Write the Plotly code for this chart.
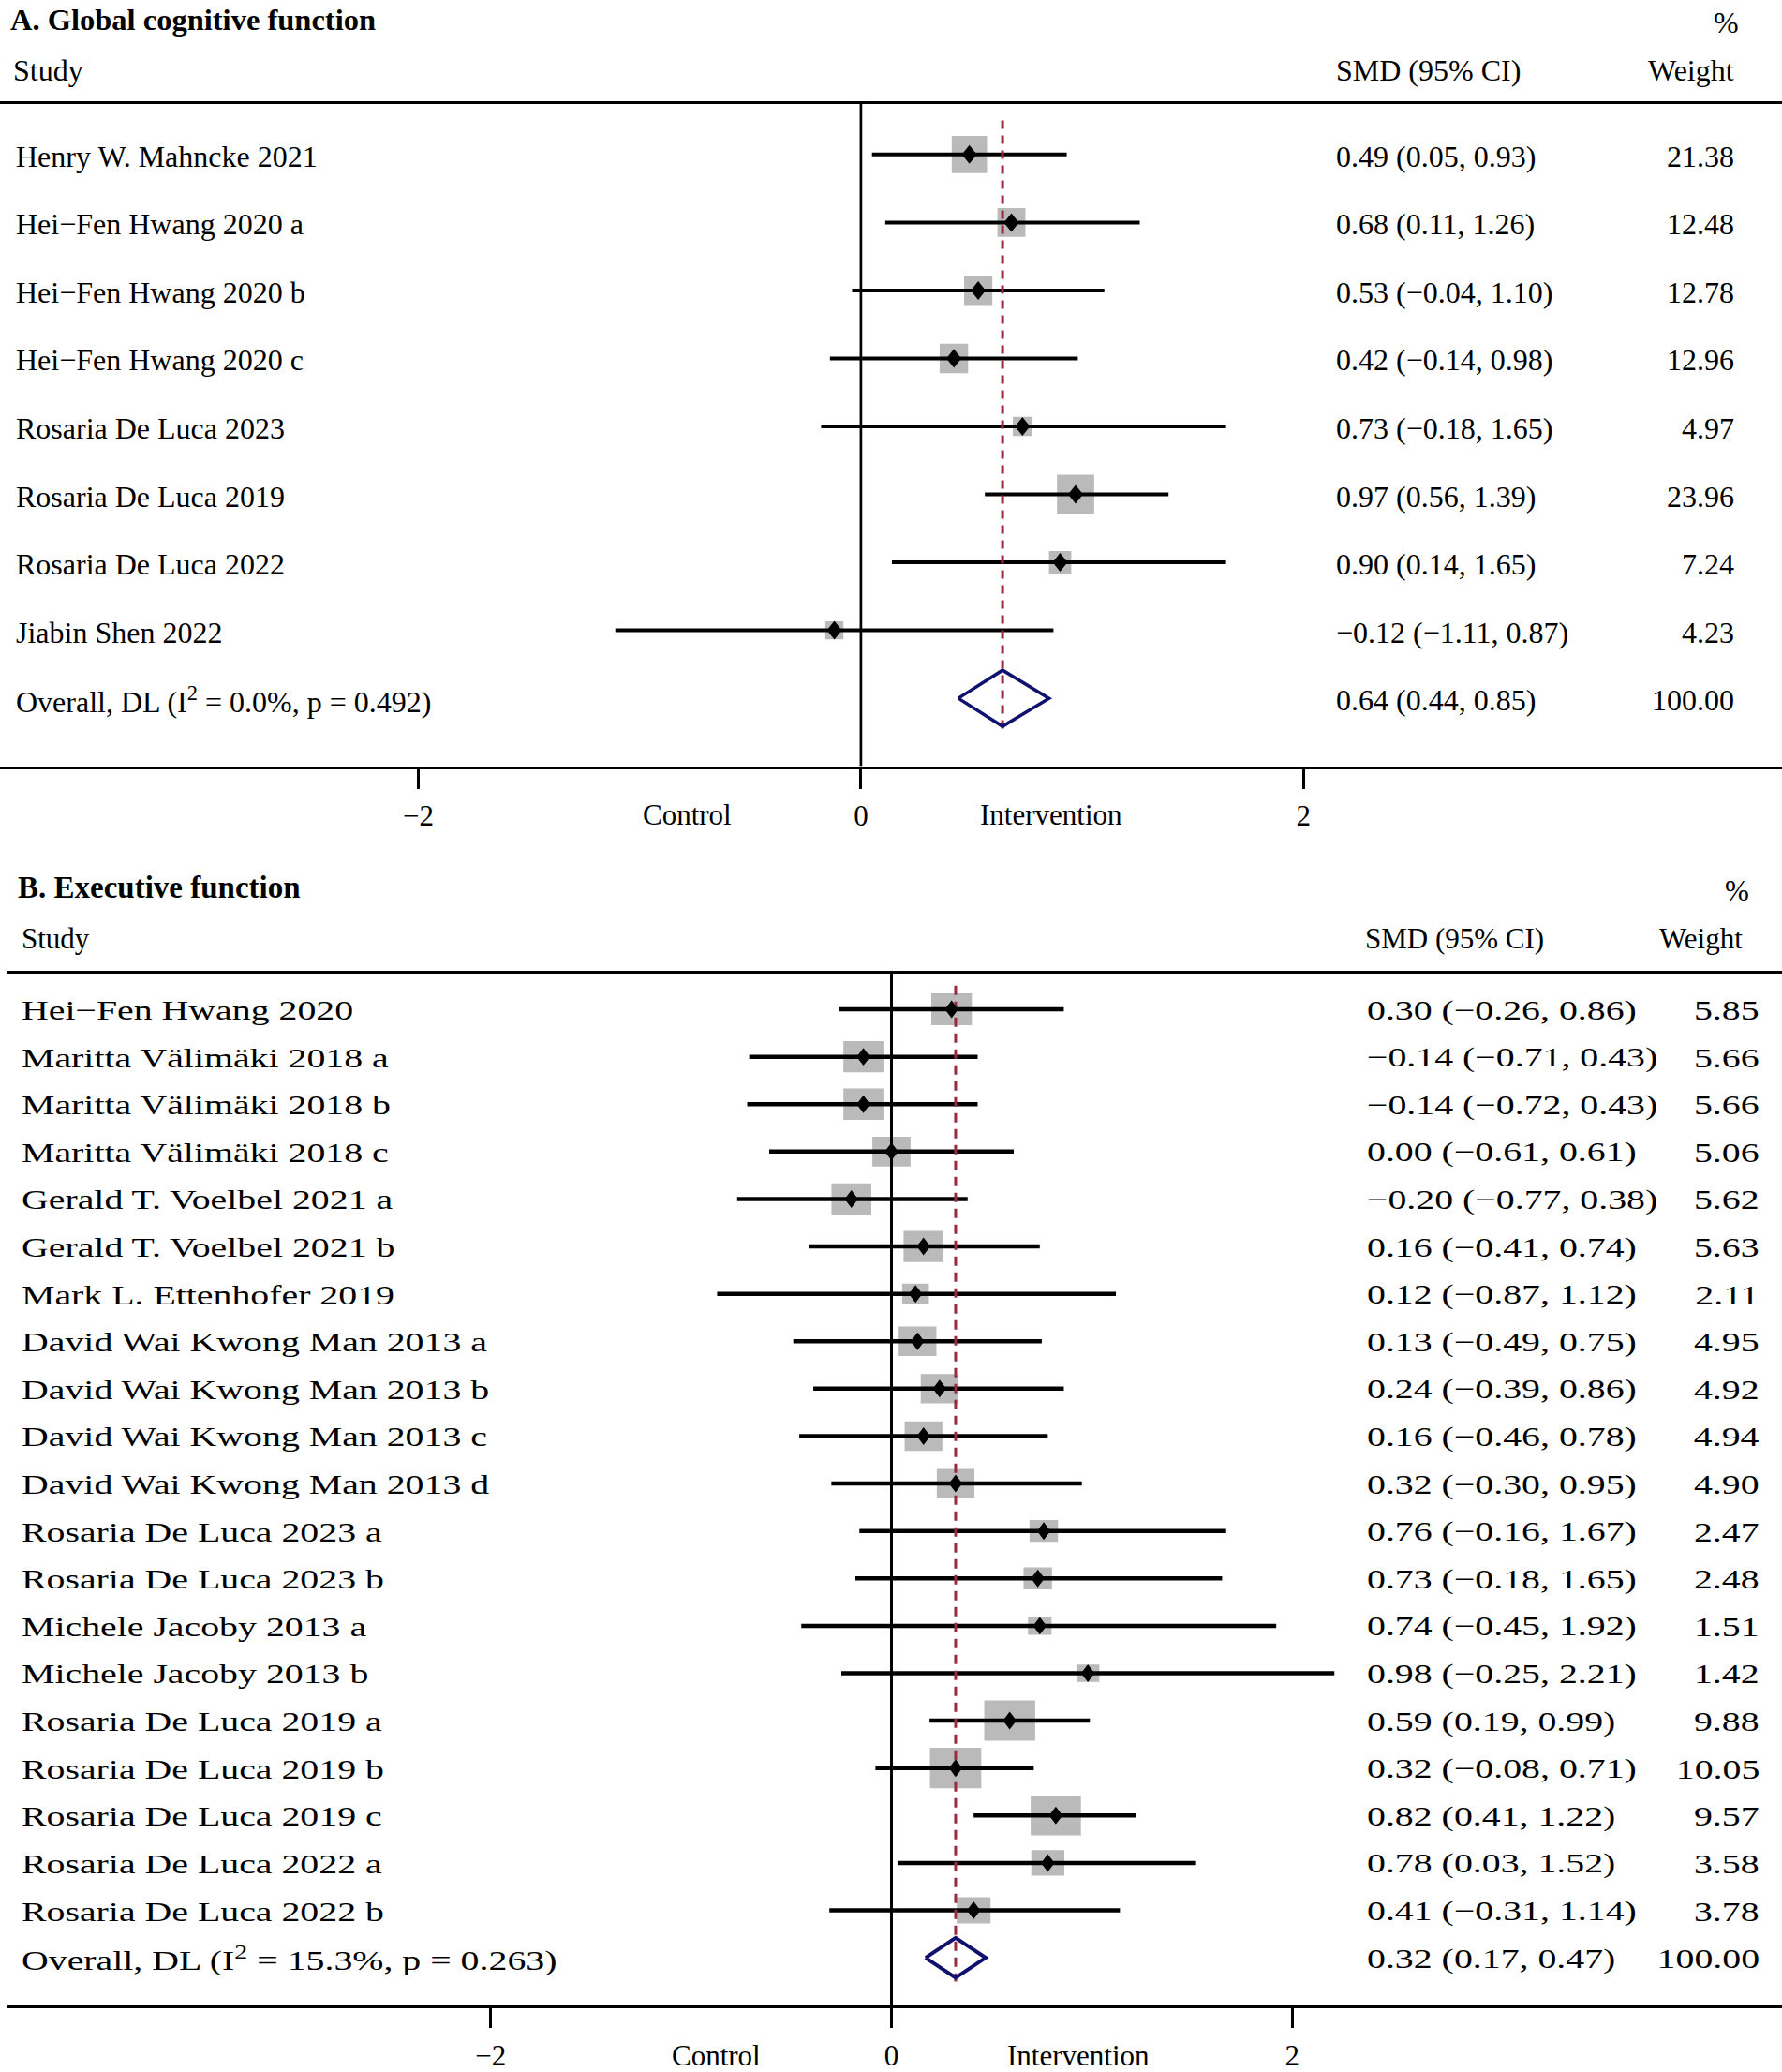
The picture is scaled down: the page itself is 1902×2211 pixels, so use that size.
import math
import plotly.graph_objects as go

W, H = 1902, 2211
FONT = "Liberation Serif"

# ---------------- Panel A data ----------------
a_title = "A. Global cognitive function"
a_studies = ["Henry W. Mahncke 2021", "Hei−Fen Hwang 2020 a", "Hei−Fen Hwang 2020 b",
             "Hei−Fen Hwang 2020 c", "Rosaria De Luca 2023", "Rosaria De Luca 2019",
             "Rosaria De Luca 2022", "Jiabin Shen 2022"]
a_smd = [0.49, 0.68, 0.53, 0.42, 0.73, 0.97, 0.90, -0.12]
a_lo = [0.05, 0.11, -0.04, -0.14, -0.18, 0.56, 0.14, -1.11]
a_hi = [0.93, 1.26, 1.10, 0.98, 1.65, 1.39, 1.65, 0.87]
a_weight = [21.38, 12.48, 12.78, 12.96, 4.97, 23.96, 7.24, 4.23]
a_overall = [0.64, 0.44, 0.85]
a_overall_label = "Overall, DL (I<sup>2</sup> = 0.0%, p = 0.492)"

# ---------------- Panel B data ----------------
b_title = "B. Executive function"
b_studies = ["Hei−Fen Hwang 2020", "Maritta Välimäki 2018 a", "Maritta Välimäki 2018 b",
             "Maritta Välimäki 2018 c", "Gerald T. Voelbel 2021 a", "Gerald T. Voelbel 2021 b",
             "Mark L. Ettenhofer 2019", "David Wai Kwong Man 2013 a", "David Wai Kwong Man 2013 b",
             "David Wai Kwong Man 2013 c", "David Wai Kwong Man 2013 d", "Rosaria De Luca 2023 a",
             "Rosaria De Luca 2023 b", "Michele Jacoby 2013 a", "Michele Jacoby 2013 b",
             "Rosaria De Luca 2019 a", "Rosaria De Luca 2019 b", "Rosaria De Luca 2019 c",
             "Rosaria De Luca 2022 a", "Rosaria De Luca 2022 b"]
b_smd = [0.30, -0.14, -0.14, 0.00, -0.20, 0.16, 0.12, 0.13, 0.24, 0.16, 0.32,
         0.76, 0.73, 0.74, 0.98, 0.59, 0.32, 0.82, 0.78, 0.41]
b_lo = [-0.26, -0.71, -0.72, -0.61, -0.77, -0.41, -0.87, -0.49, -0.39, -0.46, -0.30,
        -0.16, -0.18, -0.45, -0.25, 0.19, -0.08, 0.41, 0.03, -0.31]
b_hi = [0.86, 0.43, 0.43, 0.61, 0.38, 0.74, 1.12, 0.75, 0.86, 0.78, 0.95,
        1.67, 1.65, 1.92, 2.21, 0.99, 0.71, 1.22, 1.52, 1.14]
b_weight = [5.85, 5.66, 5.66, 5.06, 5.62, 5.63, 2.11, 4.95, 4.92, 4.94, 4.90,
            2.47, 2.48, 1.51, 1.42, 9.88, 10.05, 9.57, 3.58, 3.78]
b_overall = [0.32, 0.17, 0.47]
b_overall_label = "Overall, DL (I<sup>2</sup> = 15.3%, p = 0.263)"

tick_vals = [-2, 0, 2]
tick_text = ["−2", "0", "2"]
side_labels = ["Control", "Intervention"]
col_headers = ["Study", "SMD (95% CI)", "%", "Weight"]

BOX_COLOR = "#bababa"
RED = "#9a2a3c"
NAVY = "#10106e"


def fmt(v):
    return f"{v:.2f}".replace("-", "−")


fig = go.Figure()
annotations = []
stretch_idx = []
right_idx = []


def ann(text, xpx, ypx, anchor="left", size=31, stretch=False):
    if stretch:
        stretch_idx.append(len(annotations))
        if anchor == "right":
            right_idx.append(len(annotations))
    annotations.append(dict(
        text=text, xref="paper", yref="paper", x=xpx / W, y=1 - ypx / H,
        xanchor=anchor, yanchor="middle", align=anchor, showarrow=False,
        font=dict(family=FONT, size=size, color="black")))


def panel(ax, studies, smd, lo, hi, weight, overall, overall_label, g):
    xa = "x" if ax == 1 else "x2"
    ya = "y" if ax == 1 else "y2"
    n = len(studies)
    ux, ry = g["unit"], g["step"]

    def ydat(px):
        return (px - g["row1"]) / ry

    ytop, ybot = ydat(g["top"]), ydat(g["bot"])
    rows = list(range(n))
    # boxes
    bx, by = [], []
    for i in rows:
        s = math.sqrt(weight[i])
        hw = (g["bw"][0] * s + g["bw"][1]) / 2 / ux
        hh = (g["bh"][0] * s + g["bh"][1]) / 2 / ry
        bx += [smd[i] - hw, smd[i] + hw, smd[i] + hw, smd[i] - hw, smd[i] - hw, None]
        by += [i - hh, i - hh, i + hh, i + hh, i - hh, None]
    fig.add_trace(go.Scatter(x=bx, y=by, mode="lines", fill="toself", fillcolor=BOX_COLOR,
                             line=dict(width=0, color=BOX_COLOR), xaxis=xa, yaxis=ya,
                             hoverinfo="skip"))
    # null line
    fig.add_trace(go.Scatter(x=[0, 0], y=[ytop, ybot], mode="lines",
                             line=dict(color="black", width=g["zw"]), xaxis=xa, yaxis=ya,
                             hoverinfo="skip"))
    # CI lines
    lx, ly = [], []
    for i in rows:
        lx += [lo[i], hi[i], None]
        ly += [i, i, None]
    fig.add_trace(go.Scatter(x=lx, y=ly, mode="lines", line=dict(color="black", width=g["cw"]),
                             xaxis=xa, yaxis=ya, hoverinfo="skip"))
    # overall dashed line
    fig.add_trace(go.Scatter(x=[overall[0], overall[0]], y=[-0.5, n + 0.5], mode="lines",
                             line=dict(color=RED, width=3, dash=g["dash"]),
                             xaxis=xa, yaxis=ya, hoverinfo="skip"))
    # point estimate diamonds
    dx, dy = [], []
    hx, hy = g["dm"][0] / ux, g["dm"][1] / ry
    for i in rows:
        dx += [smd[i] - hx, smd[i], smd[i] + hx, smd[i], smd[i] - hx, None]
        dy += [i, i - hy, i, i + hy, i, None]
    fig.add_trace(go.Scatter(x=dx, y=dy, mode="lines", fill="toself", fillcolor="black",
                             line=dict(width=0, color="black"), xaxis=xa, yaxis=ya,
                             hoverinfo="skip"))
    # overall diamond
    oh = g["oh"] / ry
    fig.add_trace(go.Scatter(x=[overall[1], overall[0], overall[2], overall[0], overall[1]],
                             y=[n, n - oh, n, n + oh, n], mode="lines",
                             line=dict(color=NAVY, width=g["ow"]), xaxis=xa, yaxis=ya,
                             hoverinfo="skip"))
    xr = [(g["left"] - g["zero"]) / ux, (W - g["zero"]) / ux]
    axis = dict(domain=[g["left"] / W, 1], range=xr, showgrid=False, zeroline=False,
                showline=True, mirror=True, linecolor="black", linewidth=3,
                ticks="outside", ticklen=21, tickwidth=2.5, tickcolor="black",
                tickvals=tick_vals, ticktext=tick_text, ticklabelstandoff=g["stand"],
                tickfont=dict(family=FONT, size=31, color="black"), fixedrange=True)
    yaxis = dict(domain=[1 - g["bot"] / H, 1 - g["top"] / H], range=[ybot, ytop],
                 visible=False, fixedrange=True)
    if ax == 1:
        fig.update_layout(xaxis=dict(axis, anchor="y"), yaxis=dict(yaxis, anchor="x"))
    else:
        fig.update_layout(xaxis2=dict(axis, anchor="y2"), yaxis2=dict(yaxis, anchor="x2"))

    # texts
    st = g["stretch"]
    hs = g["hsize"]
    ann(f"<b>{g['title']}</b>", g["title_x"], g["title_y"], size=g["title_size"])
    ann(col_headers[2], g["pct_x"], g["pct_y"], anchor="right", size=hs)
    ann(col_headers[0], g["study_x"], g["head_y"], size=hs)
    ann(col_headers[1], g["smd_x"], g["head_y"], size=hs)
    ann(col_headers[3], g["wt_hx"], g["head_y"], anchor="right", size=hs)
    for i in rows:
        ypx = g["row1"] + i * ry + g["toff"]
        ann(studies[i], g["lab_x"], ypx, size=g["rsize"], stretch=st)
        ann(f"{fmt(smd[i])} ({fmt(lo[i])}, {fmt(hi[i])})", g["smd_x2"], ypx,
            size=g["rsize"], stretch=st)
        ann(f"{weight[i]:.2f}", g["wt_x"], ypx, anchor="right", size=g["rsize"], stretch=st)
    ypx = g["row1"] + n * ry + g["toff"]
    ann(overall_label, g["lab_x"], ypx, size=g["rsize"], stretch=st)
    ann(f"{fmt(overall[0])} ({fmt(overall[1])}, {fmt(overall[2])})", g["smd_x2"], ypx,
        size=g["rsize"], stretch=st)
    ann(f"{100:.2f}", g["wt_x"], ypx, anchor="right", size=g["rsize"], stretch=st)
    # Control / Intervention
    for lab, xv in zip(side_labels, g["side_x"]):
        ann(lab, g["zero"] + xv * ux, g["side_y"], anchor="center")


ga = dict(zero=918.9, unit=236.2, left=0, row1=165, step=72.6, top=110.7, bot=818.3,
          bw=(7.17, 4.55), bh=(8.0, 2.7), dm=(8.0, 10.0), oh=30, ow=3.5, cw=4, zw=2.7,
          dash="9px,7px", stand=2, title=a_title, title_x=9, title_y=21, title_size=32.5,
          pct_x=1858, pct_y=24, study_x=12, head_y=75, smd_x=1424, wt_hx=1853, hsize=32,
          lab_x=15, smd_x2=1424, wt_x=1853, toff=2, rsize=32, stretch=False,
          side_x=(-0.783, 0.858), side_y=870)
gb = dict(zero=951.5, unit=213.9, left=7, row1=1078, step=50.65, top=1040, bot=2142,
          bw=(15.3, 6.3), bh=(12.5, 3.7), dm=(7.2, 9.5), oh=21.3, ow=4, cw=4.5, zw=3,
          dash="10px,7px", stand=3, title=b_title, title_x=17, title_y=948, title_size=33,
          pct_x=1869, pct_y=951, study_x=21, head_y=1002, smd_x=1455, wt_hx=1862, hsize=31,
          lab_x=21, smd_x2=1457, wt_x=1880, toff=1, rsize=29.5, stretch=True,
          side_x=(-0.872, 0.935), side_y=2195)

panel(1, a_studies, a_smd, a_lo, a_hi, a_weight, a_overall, a_overall_label, ga)
panel(2, b_studies, b_smd, b_lo, b_hi, b_weight, b_overall, b_overall_label, gb)

fig.update_layout(width=W, height=H, margin=dict(l=0, r=0, t=0, b=0), autosize=False,
                  paper_bgcolor="white", plot_bgcolor="white", showlegend=False,
                  annotations=annotations, font=dict(family=FONT, color="black"))

post = """
document.body.style.margin = '0';
document.documentElement.style.overflow = 'hidden';
var gd = document.getElementById('{plot_id}');
var sp = %s;
var rt = %s;
var SX = 1.35;
function stretchText(){
  gd.querySelectorAll('g.annotation').forEach(function(g){
    var i = parseInt(g.getAttribute('data-index'));
    if (sp.indexOf(i) < 0) return;
    g.querySelectorAll('text').forEach(function(t){
      if (t.getAttribute('data-stretched')) return;
      var b = t.getBBox();
      var x0 = rt.indexOf(i) >= 0 ? b.x + b.width : b.x;
      var ex = t.getAttribute('transform') || '';
      t.setAttribute('transform', ex + ' translate(' + x0 + ',0) scale(' + SX + ',1) translate(' + (-x0) + ',0)');
      t.setAttribute('data-stretched', '1');
    });
  });
}
stretchText();
gd.on('plotly_afterplot', stretchText);
""" % (str(stretch_idx), str(right_idx))

fig.write_html("out.html", post_script=post, config={"displayModeBar": False})
